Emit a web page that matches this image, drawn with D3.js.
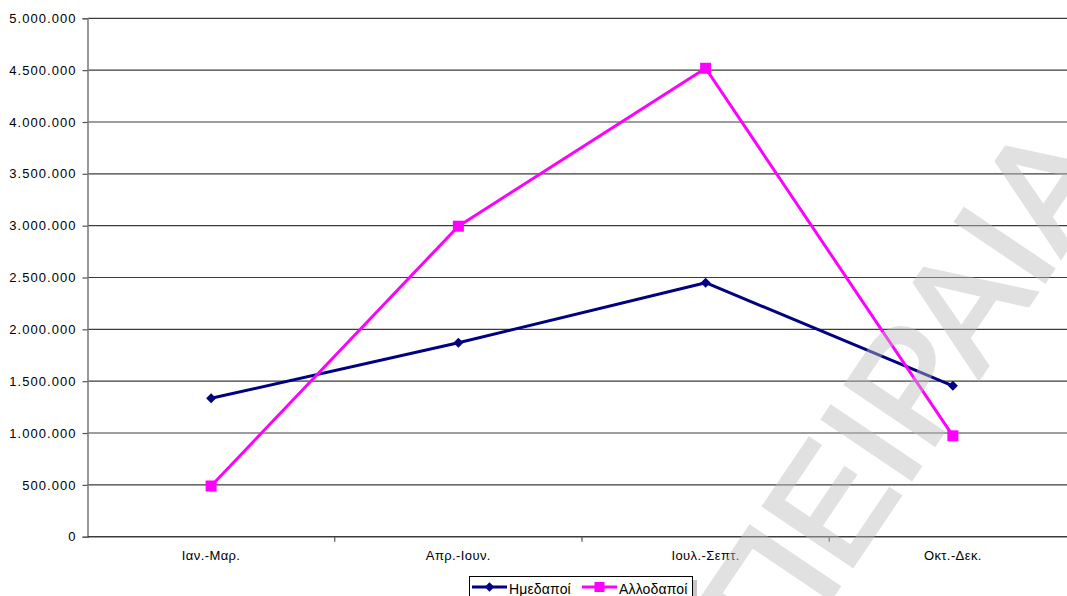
<!DOCTYPE html>
<html>
<head>
<meta charset="utf-8">
<script src="https://cdn.jsdelivr.net/npm/d3@7"></script>
<style>
  html, body { margin: 0; padding: 0; background: #fff; }
  svg { display: block; font-family: "Liberation Sans", Arial, sans-serif; }
</style>
</head>
<body>
<svg id="chart" width="1067" height="596"></svg>
<script>
const categories = ["Ιαν.-Μαρ.", "Απρ.-Ιουν.", "Ιουλ.-Σεπτ.", "Οκτ.-Δεκ."];
const domestic = [1335000, 1870000, 2450000, 1455000];   // Ημεδαποί
const foreign  = [489000, 2995000, 4518000, 973000];     // Αλλοδαποί
const yTicks = [0, 500000, 1000000, 1500000, 2000000, 2500000, 3000000, 3500000, 4000000, 4500000, 5000000];
const seriesNames = ["Ημεδαποί", "Αλλοδαποί"];
const watermarkText = "ΠΕΙΡΑΙΑ";

(function () {
const svg = d3.select("#chart");
const W = 1067, H = 596;
const pLeft = 87.5, pRight = 1076.5, pTop = 18.3, pBottom = 536.7;
const FONT = "'Liberation Sans', Arial, sans-serif";

const loc = d3.formatLocale({decimal: ",", thousands: ".", grouping: [3], currency: ["", ""]});
const fmt = loc.format(",");

const x = d3.scaleBand().domain(categories).range([pLeft, pRight]).padding(0);
const y = d3.scaleLinear().domain([0, 5000000]).range([pBottom, pTop]);

// gridlines
svg.append("g").selectAll("line").data(yTicks.filter(d => d > 0)).join("line")
  .attr("x1", pLeft).attr("x2", W).attr("y1", d => y(d)).attr("y2", d => y(d))
  .attr("stroke", "#3c3c3c").attr("stroke-width", 1.2);

// y axis
const yAxis = d3.axisLeft(y).tickValues(yTicks).tickFormat(d => fmt(d)).tickSize(5).tickPadding(6);
const gy = svg.append("g").attr("transform", `translate(${pLeft},0)`).call(yAxis);
gy.select(".domain").attr("stroke", "#808080").attr("stroke-width", 1.6);
gy.selectAll(".tick line").attr("stroke", "#555").attr("stroke-width", 1.2);
gy.selectAll(".tick text").attr("fill", "#000").style("font-size", "13px")
  .style("letter-spacing", "1.05px").style("font-family", FONT);

// x axis
const bw = x.bandwidth();
const gx = svg.append("g").attr("transform", `translate(0,${pBottom})`);
gx.append("line").attr("x1", pLeft).attr("x2", W).attr("y1", 0).attr("y2", 0)
  .attr("stroke", "#3c3c3c").attr("stroke-width", 1.4);
gx.selectAll("line.tk").data(categories.slice(1)).join("line").attr("class", "tk")
  .attr("x1", d => x(d)).attr("x2", d => x(d)).attr("y1", 0).attr("y2", 5)
  .attr("stroke", "#555").attr("stroke-width", 1.2);
gx.selectAll("text").data(categories).join("text")
  .attr("x", d => x(d) + bw / 2).attr("y", 23)
  .attr("text-anchor", "middle").attr("fill", "#000").style("font-size", "13px")
  .style("letter-spacing", "0.4px")
  .text(d => d);

// lines
const cx = (d, i) => x(categories[i]) + bw / 2;
const line = d3.line().x(cx).y(d => y(d));

svg.append("path").datum(domestic).attr("d", line)
  .attr("fill", "none").attr("stroke", "#000080").attr("stroke-width", 3).attr("stroke-linejoin", "round");
svg.append("path").datum(foreign).attr("d", line)
  .attr("fill", "none").attr("stroke", "#FF00FF").attr("stroke-width", 3).attr("stroke-linejoin", "round");

// markers
svg.append("g").selectAll("path").data(domestic).join("path")
  .attr("d", d3.symbol().type(d3.symbolSquare).size(50))
  .attr("transform", (d, i) => `translate(${cx(d, i)},${y(d)}) rotate(45)`)
  .attr("fill", "#000080");
svg.append("g").selectAll("rect").data(foreign).join("rect")
  .attr("x", (d, i) => cx(d, i) - 5.5).attr("y", d => y(d) - 5.5)
  .attr("width", 11).attr("height", 11).attr("fill", "#FF00FF");

// watermark
svg.append("g").attr("opacity", 0.45)
  .append("text")
  .attr("transform", "translate(783,669) rotate(-56)")
  .attr("fill", "#bdbdbd").attr("stroke", "#bdbdbd").attr("stroke-width", 4)
  .attr("stroke-linejoin", "miter")
  .style("font-size", "155px").style("font-family", FONT)
  .text(watermarkText);

// legend
const lg = svg.append("g").attr("transform", "translate(469,576)");
lg.append("rect").attr("x", 4).attr("y", 4).attr("width", 224).attr("height", 26).attr("fill", "#c8c8c8");
lg.append("rect").attr("x", 0.5).attr("y", 0.5).attr("width", 223).attr("height", 26)
  .attr("fill", "#fff").attr("stroke", "#000").attr("stroke-width", 1);
const colors = ["#000080", "#FF00FF"];
const offs = [3, 113];
seriesNames.forEach((name, i) => {
  const g = lg.append("g").attr("transform", `translate(${offs[i]},11)`);
  g.append("line").attr("x1", 0).attr("x2", 35).attr("y1", 0).attr("y2", 0)
    .attr("stroke", colors[i]).attr("stroke-width", 3);
  if (i === 0) {
    g.append("path").attr("d", d3.symbol().type(d3.symbolSquare).size(45))
      .attr("transform", "translate(17.5,0) rotate(45)").attr("fill", colors[i]);
  } else {
    g.append("rect").attr("x", 12.5).attr("y", -5).attr("width", 10).attr("height", 10).attr("fill", colors[i]);
  }
  g.append("text").attr("x", 37).attr("y", 7).style("font-size", "14px")
    .style("letter-spacing", "0.15px").attr("fill", "#000").text(name);
});
})();
</script>
</body>
</html>
